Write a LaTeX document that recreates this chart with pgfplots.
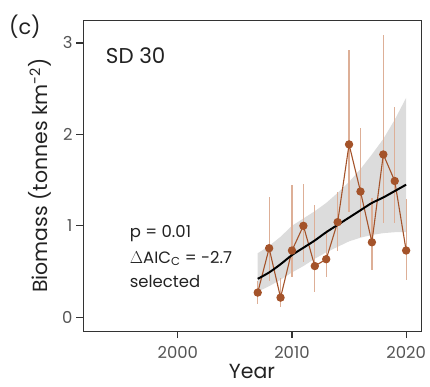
\documentclass[border=0pt]{standalone}
\usepackage{pgfplots}
\pgfplotsset{compat=1.18}
\usepackage{fontspec}
\setmainfont{Poppins}
\definecolor{pt}{HTML}{A4532A}
\definecolor{eb}{HTML}{DDAF97}
\definecolor{band}{HTML}{DCDCDC}
\definecolor{frame}{HTML}{333333}
\definecolor{tick}{HTML}{555555}
\definecolor{txt}{HTML}{222222}
\begin{document}
\begin{tikzpicture}
\begin{axis}[
  scale only axis, width=338bp, height=311bp,
  xmin=1991.7, xmax=2021.3, ymin=-0.15, ymax=3.25,
  axis line style={frame, line width=1pt},
  xtick={2000,2010,2020}, ytick={0,1,2,3},
  tick align=outside, major tick length=7bp,
  tick style={frame, line width=1.3pt},
  xtick pos=bottom, ytick pos=left,
  /pgf/number format/assume math mode=true,
  /pgf/number format/1000 sep={},
  ticklabel style={font=\fontsize{16.5}{19}\selectfont, text=tick},
  xticklabel style={yshift=-5bp},
  xlabel={Year},
  ylabel={Biomass (tonnes km\textsuperscript{-2})},
  label style={font=\fontsize{20.5}{24}\selectfont, text=txt},
  xlabel style={yshift=1bp},
  ylabel style={yshift=4bp},
  clip=false,
]
% confidence band
\addplot[fill=band, draw=none] coordinates {
 (2007,0.70) (2008,0.78) (2009,0.88) (2010,1.00) (2011,1.08) (2012,1.16) (2013,1.25)
 (2014,1.36) (2015,1.48) (2016,1.62) (2017,1.78) (2018,1.95) (2019,2.16) (2020,2.40)
 (2020,0.93) (2019,0.93) (2018,0.92) (2017,0.90) (2016,0.87) (2015,0.83) (2014,0.77)
 (2013,0.71) (2012,0.64) (2011,0.56) (2010,0.49) (2009,0.41) (2008,0.34) (2007,0.28)
} -- cycle;
% error bars
\addplot[draw=none, mark=none,
  error bars/.cd, y dir=both, y explicit, error mark=none,
  error bar style={eb, line width=1.2pt}]
  table[x=x, y=y, y error plus=ep, y error minus=em] {
x y ep em
2007 0.27 0.13 0.12
2008 0.755 0.555 0.355
2009 0.215 0.215 0.105
2010 0.73 0.72 0.29
2011 1.00 0.46 0.40
2012 0.56 0.67 0.28
2013 0.635 0.315 0.195
2014 1.04 0.33 0.31
2015 1.89 1.03 0.74
2016 1.375 0.695 0.495
2017 0.82 0.48 0.30
2018 1.78 1.31 0.75
2019 1.49 0.81 0.46
2020 0.73 0.56 0.32
};
% observed series
\addplot[pt, line width=1.1pt, mark=*, mark size=3.6bp, mark options={fill=pt, draw=pt}] coordinates {
 (2007,0.27) (2008,0.755) (2009,0.215) (2010,0.73) (2011,1.00) (2012,0.56) (2013,0.635)
 (2014,1.04) (2015,1.89) (2016,1.375) (2017,0.82) (2018,1.78) (2019,1.49) (2020,0.73)
};
% trend
\addplot[black, line width=2pt, smooth] coordinates {
 (2007,0.42) (2008,0.49) (2009,0.58) (2010,0.68) (2011,0.76) (2012,0.84) (2013,0.93)
 (2014,1.01) (2015,1.09) (2016,1.17) (2017,1.25) (2018,1.31) (2019,1.38) (2020,1.45)
};
\node[anchor=west, text=txt, font=\fontsize{21.5}{25}\selectfont] at (axis cs:1993.4,2.86) {SD 30};
\node[anchor=base west, text=txt, font=\fontsize{16.5}{19}\selectfont] at (axis cs:1995.5,0.87) {p = 0.01};
\node[anchor=base west, text=txt, font=\fontsize{16.5}{19}\selectfont] at (axis cs:1995.5,0.59) {$\Delta$AIC\textsubscript{C} = -2.7};
\node[anchor=base west, text=txt, font=\fontsize{16.5}{19}\selectfont] at (axis cs:1995.5,0.33) {selected};
\node[anchor=center, text=txt, font=\fontsize{21}{25}\selectfont] at (rel axis cs:-0.172,0.98) {(c)};
\end{axis}
\pgfresetboundingbox
\path (current axis.south west) ++(-83bp,-56bp) rectangle ++(430bp,387bp);
\end{tikzpicture}
\end{document}
